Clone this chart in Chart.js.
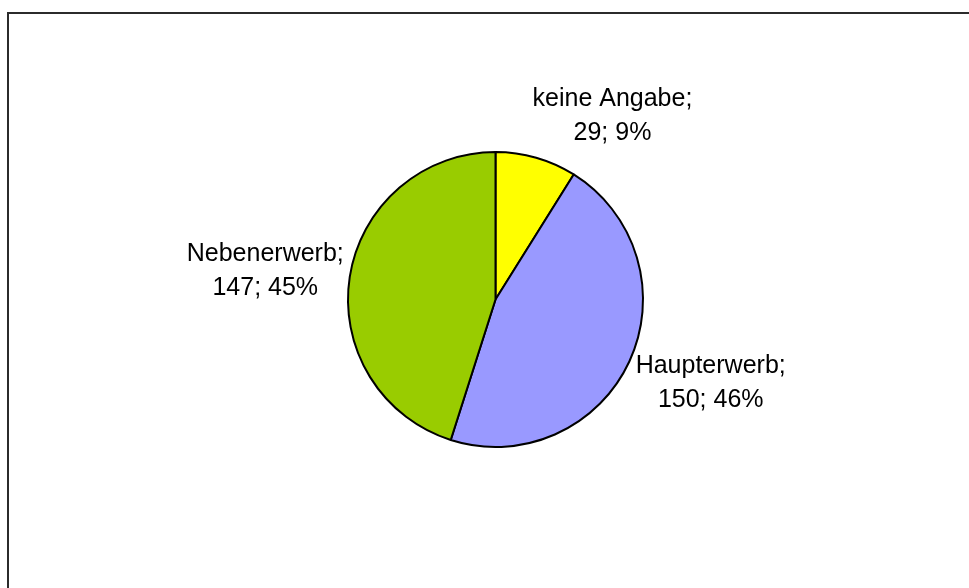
<!DOCTYPE html>
<html lang="de">
<head>
<meta charset="utf-8">
<title>Erwerbsart</title>
<script src="https://cdn.jsdelivr.net/npm/chart.js@4"></script>
<style>
    html, body { margin: 0; padding: 0; background: #fff; }
    #wrap { width: 969px; height: 588px; position: relative; }
</style>
</head>
<body>
<div id="wrap"><canvas id="pie" width="969" height="588"></canvas></div>
<script>
// Daten
const categories = ['keine Angabe', 'Haupterwerb', 'Nebenerwerb'];
const counts = [29, 150, 147];
const sliceColors = ['#FFFF00', '#9999FF', '#99CC00'];

// Feinkorrektur der Beschriftungen (px)
const labelNudge = [[52, -3], [6, 2], [1, -1]];

const total = counts.reduce((a, b) => a + b, 0);

// Rahmen um das Diagramm
const framePlugin = {
    id: 'frame',
    beforeDraw(chart) {
        const ctx = chart.ctx;
        ctx.save();
        ctx.strokeStyle = '#2b2b2b';
        ctx.lineWidth = 2;
        ctx.strokeRect(8, 13, 2000, 2000);
        ctx.restore();
    }
};

// Beschriftungen "Name; Wert; Prozent" außerhalb der Segmente
const pieLabels = {
    id: 'pieLabels',
    afterDraw(chart) {
        const ctx = chart.ctx;
        const arcs = chart.getDatasetMeta(0).data;
        ctx.save();
        ctx.font = '25px "Liberation Sans", Arial, sans-serif';
        ctx.fillStyle = '#000';
        ctx.textAlign = 'center';
        ctx.textBaseline = 'alphabetic';
        const lineH = 34;
        arcs.forEach((arc, i) => {
            const lines = [
                categories[i] + ';',
                counts[i] + '; ' + Math.round(counts[i] / total * 100) + '%'
            ];
            const w = Math.max(...lines.map(l => ctx.measureText(l).width));
            const h = lineH * lines.length;
            const mid = (arc.startAngle + arc.endAngle) / 2;
            const dx = Math.cos(mid), dy = Math.sin(mid);
            const r = arc.outerRadius + 8;
            const cx = arc.x + dx * r + dx * w / 2 + labelNudge[i][0];
            const cy = arc.y + dy * r + dy * h / 2 + labelNudge[i][1];
            lines.forEach((l, k) => {
                ctx.fillText(l, cx, cy - h / 2 + 26 + k * lineH);
            });
        });
        ctx.restore();
    }
};

new Chart(document.getElementById('pie'), {
    type: 'pie',
    data: {
        labels: categories,
        datasets: [{
            data: counts,
            backgroundColor: sliceColors,
            borderColor: '#000',
            borderWidth: 2
        }]
    },
    options: {
        responsive: false,
        animation: false,
        layout: { padding: { left: 346, right: 324, top: 151, bottom: 140 } },
        plugins: {
            legend: { display: false },
            tooltip: { enabled: false }
        }
    },
    plugins: [framePlugin, pieLabels]
});
</script>
</body>
</html>
